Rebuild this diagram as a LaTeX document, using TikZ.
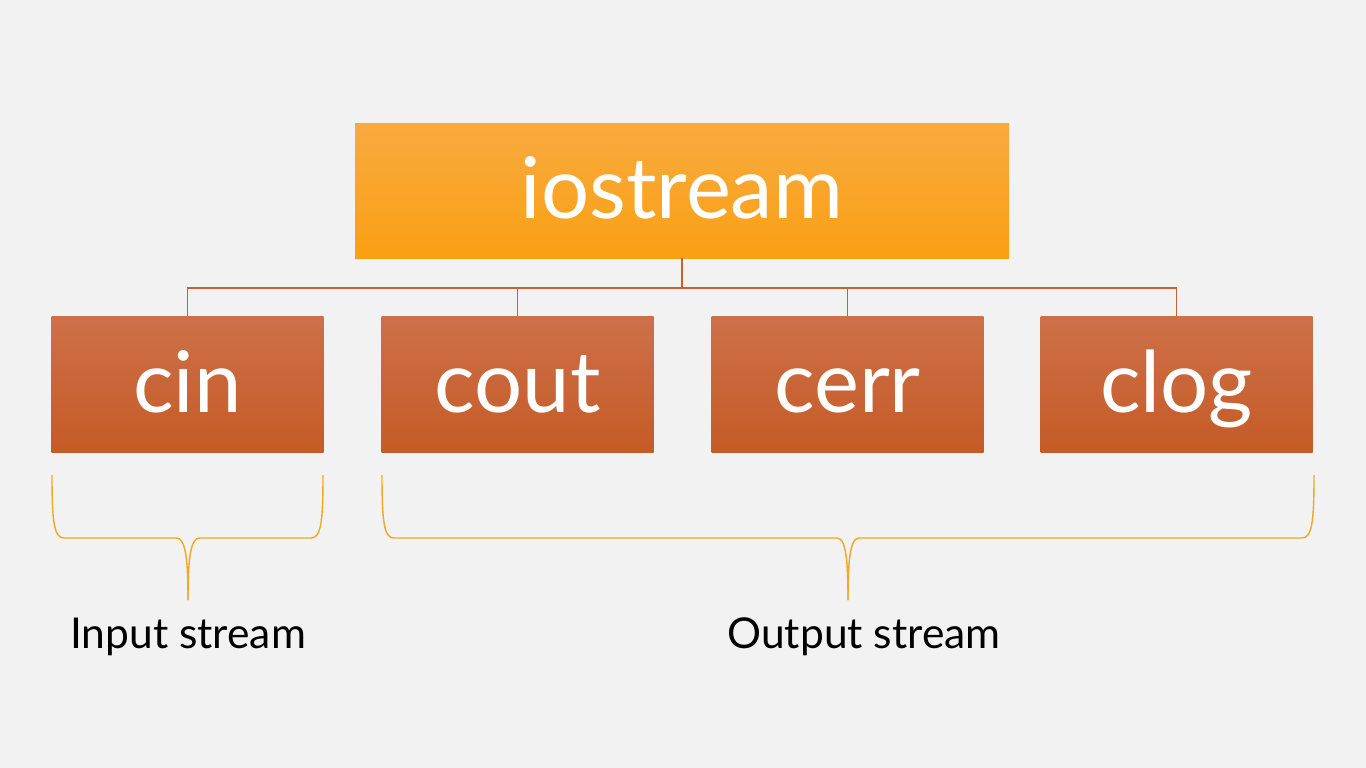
\documentclass[tikz,border=0pt]{standalone}
\usepackage{fontspec}
\setmainfont{Lato}
\definecolor{bg}{HTML}{F2F2F2}
\definecolor{topA}{HTML}{F8AA40}
\definecolor{topB}{HTML}{F9A012}
\definecolor{kidA}{HTML}{CD7049}
\definecolor{kidB}{HTML}{C55B26}
\definecolor{wire}{HTML}{C9612D}
\definecolor{brace}{HTML}{F5A623}
\tikzset{
  rootbox/.style={minimum width=654pt, minimum height=135pt, inner sep=0pt,
    top color=topA, bottom color=topB, draw=none, text=white,
    font=\fontsize{85}{90}\selectfont, text height=63pt, text depth=8pt},
  kidbox/.style={minimum width=272pt, minimum height=136pt, inner sep=0pt,
    top color=kidA, bottom color=kidB, draw=none, text=white,
    font=\fontsize{85}{90}\selectfont, text height=63pt, text depth=7pt},
  wireline/.style={draw=wire, line width=1.2pt},
  braceline/.style={draw=brace, line width=1.4pt},
  label/.style={anchor=base, text=black, font=\fontsize{42.5}{46}\selectfont, inner sep=0pt}
}
\begin{document}
\begin{tikzpicture}[x=1pt, y=-1pt]
\fill[bg] (0,0) rectangle (1366,768);
\useasboundingbox (0,0) rectangle (1366,768);

\node[rootbox] (root) at (682,190.5) {iostream};
\node[kidbox] (cin)  at (187.5,384) {cin};
\node[kidbox] (cout) at (517.5,384) {cout};
\node[kidbox] (cerr) at (847.5,384) {cerr};
\node[kidbox] (clog) at (1176.5,384) {clog};

\coordinate (bus) at (682,288);
\foreach \k in {cin,cout,cerr,clog}
  \draw[wireline] (root.south) -- (bus) -| (\k.north);

% braces
\coordinate (inL) at (52,475);
\coordinate (inR) at (323,475);
\coordinate (inTip) at (188,600);
\draw[braceline] (inL) .. controls (52,522) and (54,538) .. (64,538)
  -- (176,538) .. controls (185,538) and (188,555) .. (inTip);
\draw[braceline] (inR) .. controls (323,522) and (321,538) .. (311,538)
  -- (200,538) .. controls (191,538) and (188,555) .. (inTip);

\coordinate (outL) at (382,475);
\coordinate (outR) at (1314,475);
\coordinate (outTip) at (848,600);
\draw[braceline] (outL) .. controls (382,522) and (384,538) .. (394,538)
  -- (837,538) .. controls (845,538) and (848,555) .. (outTip);
\draw[braceline] (outR) .. controls (1314,522) and (1312,538) .. (1302,538)
  -- (859,538) .. controls (851,538) and (848,555) .. (outTip);

\node[label] (inlab) at (188,648) {Input stream};
\node[label] (outlab) at (864,648) {Output stream};
\end{tikzpicture}
\end{document}
